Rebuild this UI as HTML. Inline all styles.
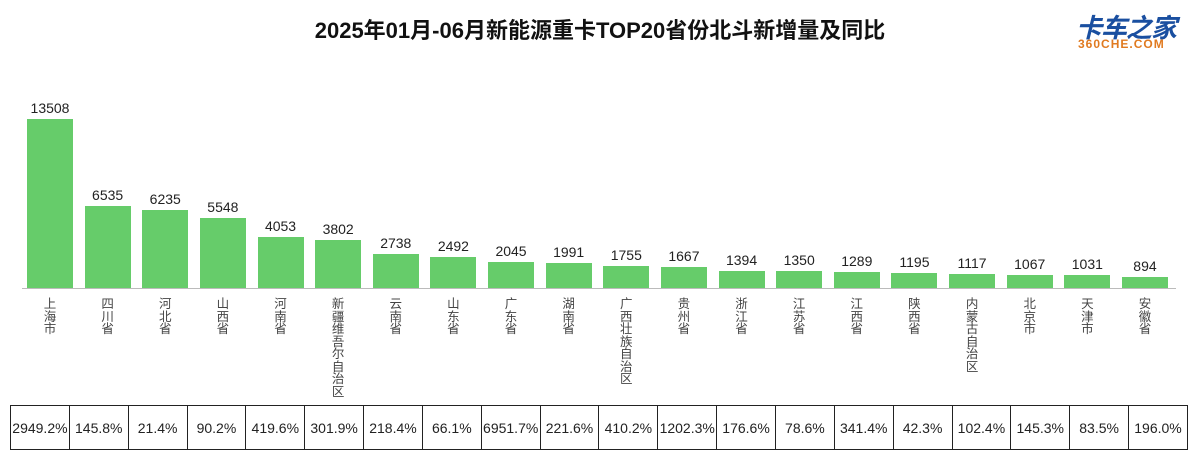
<!DOCTYPE html>
<html><head><meta charset="utf-8"><style>
body{margin:0;background:#fff;width:1200px;height:462px;overflow:hidden;position:relative;font-family:"Liberation Sans","Noto Sans CJK SC",sans-serif;color:#222}
.t{position:absolute;top:13px;left:0;width:1200px;text-align:center;font-size:22px;font-weight:bold;color:#111}
.bar{position:absolute;background:#66cc6a;width:46px}
.v{position:absolute;width:70px;text-align:center;font-size:14px;color:#222}
.c{position:absolute;width:20px;text-align:center;font-size:12.5px;line-height:12.5px;color:#444;font-family:"Noto Sans CJK SC",sans-serif}
table{position:absolute;left:10px;top:405px;border-collapse:collapse;width:1178px;table-layout:fixed}
td{border:1.5px solid #222;height:43px;text-align:center;font-size:14px;padding:0;color:#222}
</style></head><body>
<div class="t">2025年01月-06月新能源重卡TOP20省份北斗新增量及同比</div>
<div style="position:absolute;left:1076px;top:8px;font:bold 26px 'Noto Sans CJK SC',sans-serif;color:#1a4fa0;font-style:italic;letter-spacing:-1px">卡车之家</div>
<div style="position:absolute;left:1078px;top:37px;font:bold 12px 'Liberation Sans',sans-serif;color:#e07a20;letter-spacing:1px">360CHE.COM</div>
<div style="position:absolute;left:22px;top:288px;width:1154px;height:1px;background:#bbb"></div>
<div id="c"></div>
<table><tr><td>2949.2%</td><td>145.8%</td><td>21.4%</td><td>90.2%</td><td>419.6%</td><td>301.9%</td><td>218.4%</td><td>66.1%</td><td>6951.7%</td><td>221.6%</td><td>410.2%</td><td>1202.3%</td><td>176.6%</td><td>78.6%</td><td>341.4%</td><td>42.3%</td><td>102.4%</td><td>145.3%</td><td>83.5%</td><td>196.0%</td></tr></table>
<script>
var d=[["上海市",13508],["四川省",6535],["河北省",6235],["山西省",5548],["河南省",4053],["新疆维吾尔自治区",3802],["云南省",2738],["山东省",2492],["广东省",2045],["湖南省",1991],["广西壮族自治区",1755],["贵州省",1667],["浙江省",1394],["江苏省",1350],["江西省",1289],["陕西省",1195],["内蒙古自治区",1117],["北京市",1067],["天津市",1031],["安徽省",894]];
var h="";
d.forEach(function(e,i){var cx=50+i*57.63;var ht=e[1]*169.3/13508;var top=288-ht;
h+='<div class="bar" style="left:'+(cx-23)+'px;top:'+top+'px;height:'+ht+'px"></div>';
h+='<div class="v" style="left:'+(cx-35)+'px;top:'+(top-19)+'px">'+e[1]+'</div>';
h+='<div class="c" style="left:'+(cx-10)+'px;top:297px">'+e[0].split("").join("<br>")+'</div>';});
document.getElementById("c").innerHTML=h;
</script>
</body></html>
